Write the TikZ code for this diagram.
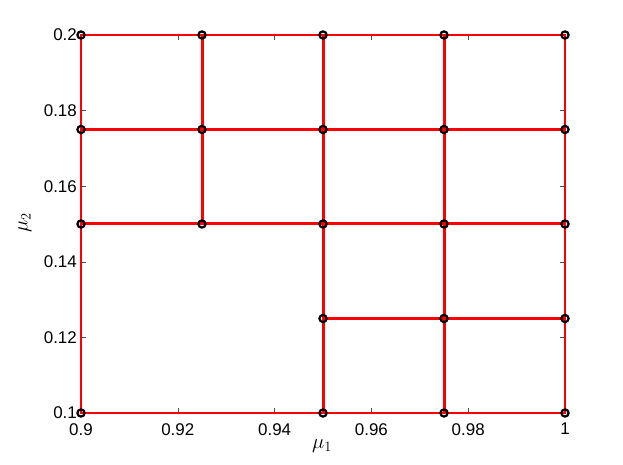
\documentclass[tikz,border=0pt]{standalone}
\usepackage[no-math]{fontspec}
\newfontfamily\axfont{Liberation Sans}
\tikzset{
  bnd/.style={draw=red, line width=1.6bp},
  edge/.style={draw=red, line width=3bp},
  pt/.style={circle, draw=black, line width=2.2bp, minimum size=7.2bp, inner sep=0pt},
  tick/.style={draw=black!70, line width=0.5bp},
  ticklab/.style={font=\axfont\fontsize{17}{19}\selectfont, inner sep=0pt},
  axlab/.style={font=\fontsize{20}{22}\selectfont, inner sep=0pt}
}
\begin{document}
\begin{tikzpicture}[x=1bp,y=1bp]
\useasboundingbox (0,0) rectangle (623,465);
\begin{scope}[shift={(81bp,52bp)}, x=48.4bp, y=37.8bp]
  \foreach \i in {0,...,4}{
    \foreach \j in {0,...,4}{
      \coordinate (c\i\j) at ({2.5*\i},{2.5*\j});
    }
  }
  % axes box and ticks
  \draw[black, line width=0.5bp] (c00) rectangle (c44);
  \foreach \u/\lab in {0/0.9,2/0.92,4/0.94,6/0.96,8/0.98,10/1}{
    \draw[tick] (\u,0) -- ++(0,4.8bp);
    \draw[tick] (\u,10) -- ++(0,-4.8bp);
    \node[ticklab, anchor=north] (xl\u) at ([yshift=-10bp]\u,0) {\lab};
  }
  \foreach \v/\lab in {0/0.1,2/0.12,4/0.14,6/0.16,8/0.18,10/0.2}{
    \draw[tick] (0,\v) -- ++(4.8bp,0);
    \draw[tick] (10,\v) -- ++(-4.8bp,0);
    \node[ticklab, anchor=east] (yl\v) at ([xshift=-4bp]0,\v) {\lab};
  }
  % grid
  \draw[bnd] (c00) rectangle (c44);
  \draw[edge] (c03) -- (c43);
  \draw[edge] (c02) -- (c42);
  \draw[edge] (c21) -- (c41);
  \draw[edge] (c12) -- (c14);
  \draw[edge] (c20) -- (c24);
  \draw[edge] (c30) -- (c34);
  % points
  \foreach \p in {02,12,22,32,42,03,13,23,33,43,04,14,24,34,44,21,31,41,00,20,30,40}{
    \node[pt] (n\p) at (c\p) {};
  }
\end{scope}
\node[axlab] (xlabel) at (322,19) {$\mu_1$};
\node[axlab, rotate=90] (ylabel) at (25,242) {$\mu_2$};
\end{tikzpicture}
\end{document}
